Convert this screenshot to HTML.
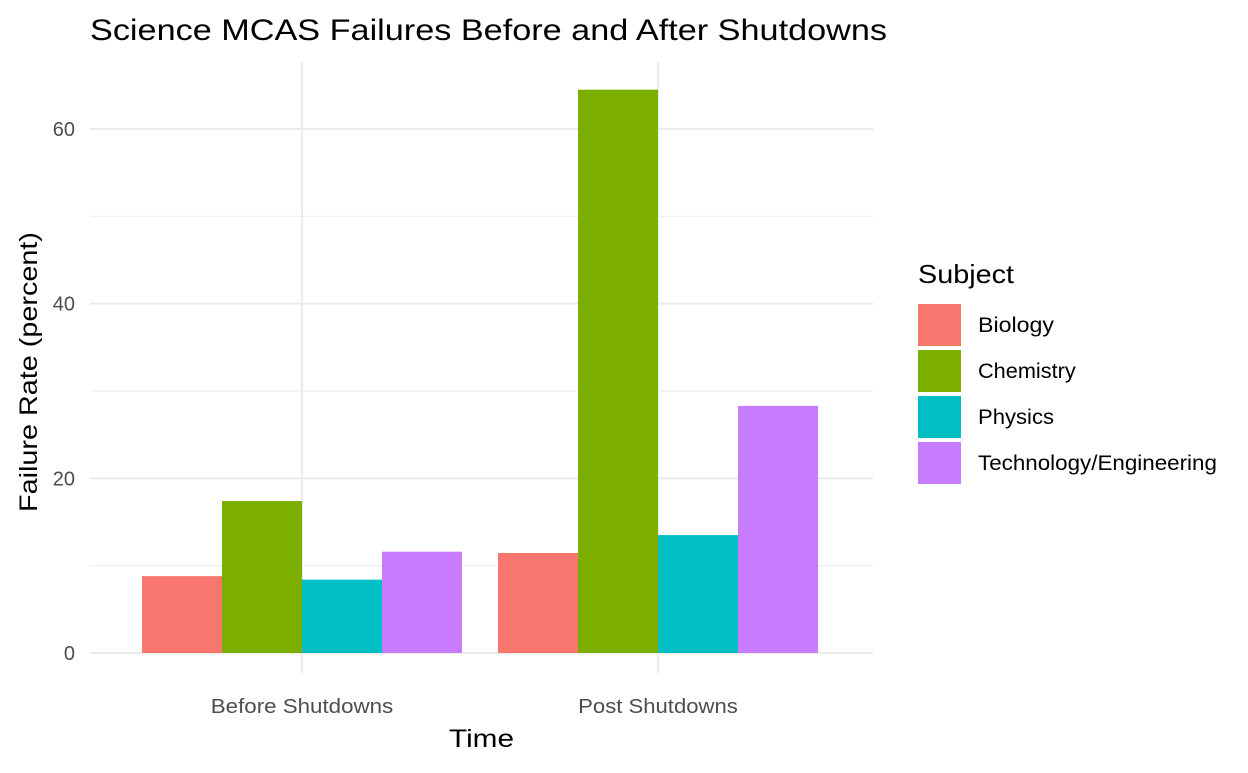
<!DOCTYPE html>
<html><head><meta charset="utf-8"><style>
body{margin:0;background:#fff;font-family:"Liberation Sans",Arial,sans-serif}
</style></head><body>
<svg id="chart" width="1248" height="768" xmlns="http://www.w3.org/2000/svg">
<text x="90" y="40" font-size="30" textLength="797" lengthAdjust="spacingAndGlyphs" fill="#000">Science MCAS Failures Before and After Shutdowns</text>
<g id="grid"></g><g id="bars"></g><g id="axes"></g><g id="legend"></g>
<text x="449" y="747" font-size="25" textLength="65" lengthAdjust="spacingAndGlyphs">Time</text>
<text transform="translate(37,512) rotate(-90)" font-size="25" textLength="280" lengthAdjust="spacingAndGlyphs">Failure Rate (percent)</text>
</svg>
<script>
const categories = ["Before Shutdowns", "Post Shutdowns"];
const subjects = ["Biology", "Chemistry", "Physics", "Technology/Engineering"];
const biology = [8.8, 11.45];
const chemistry = [17.4, 64.5];
const physics = [8.4, 13.5];
const technology = [11.6, 28.3];
const yTicks = [0, 20, 40, 60];
const yMinor = [10, 30, 50];
const colors = ["#F8766D", "#7CAE00", "#00BFC4", "#C77CFF"];
const series = [biology, chemistry, physics, technology];
const NS = "http://www.w3.org/2000/svg";
const L = 90, R = 873, T = 62, B = 653;
function y(v){ return 653 - v * (653 - 129) / 60; }
function xc(i){ return 302 + i * 356; }
function mk(tag, attrs, parent){ const e = document.createElementNS(NS, tag); for (const k in attrs) e.setAttribute(k, attrs[k]); document.getElementById(parent).appendChild(e); return e; }
yMinor.forEach(v => {
  const l = mk("line", {x1:L, x2:R, y1:y(v), y2:y(v), stroke:"#ebebeb", "stroke-width":1}, "grid");
  
  
});
yTicks.forEach(v => {
  const l = mk("line", {x1:L, x2:R, y1:y(v), y2:y(v), stroke:"#ebebeb", "stroke-width":2}, "grid");
  
  
  const t = mk("text", {x:75, y:y(v)+7, "font-size":20, fill:"#4d4d4d", "text-anchor":"end"}, "axes");
  t.textContent = v;
  
  
});
categories.forEach((c, i) => {
  const l = mk("line", {x1:xc(i), x2:xc(i), y1:T, y2:B+20, stroke:"#ebebeb", "stroke-width":2}, "grid");
  
  
  const t = mk("text", {x:xc(i), y:713, "font-size":20, fill:"#4d4d4d", "text-anchor":"middle", textLength: c.length*11.4, lengthAdjust:"spacingAndGlyphs"}, "axes");
  t.textContent = c;
  
  
  series.forEach((s, j) => {
    const bw = 80;
    const r = mk("rect", {x:xc(i) - 160 + j*bw, y:y(s[i]), width:bw, height:y(0)-y(s[i]), fill:colors[j]}, "bars");
    
    
  });
});
const lt = mk("text", {x:918, y:283, "font-size":26, textLength:96, lengthAdjust:"spacingAndGlyphs"}, "legend");
lt.textContent = "Subject";


subjects.forEach((s, j) => {
  const r = mk("rect", {x:918, y:304 + j*46, width:43, height:42, fill:colors[j]}, "legend");
  
  
  const t = mk("text", {x:978, y:332 + j*46, "font-size":21, textLength: s.length*10.86, lengthAdjust:"spacingAndGlyphs"}, "legend");
  t.textContent = s;
  
  
});
</script>
</body></html>
